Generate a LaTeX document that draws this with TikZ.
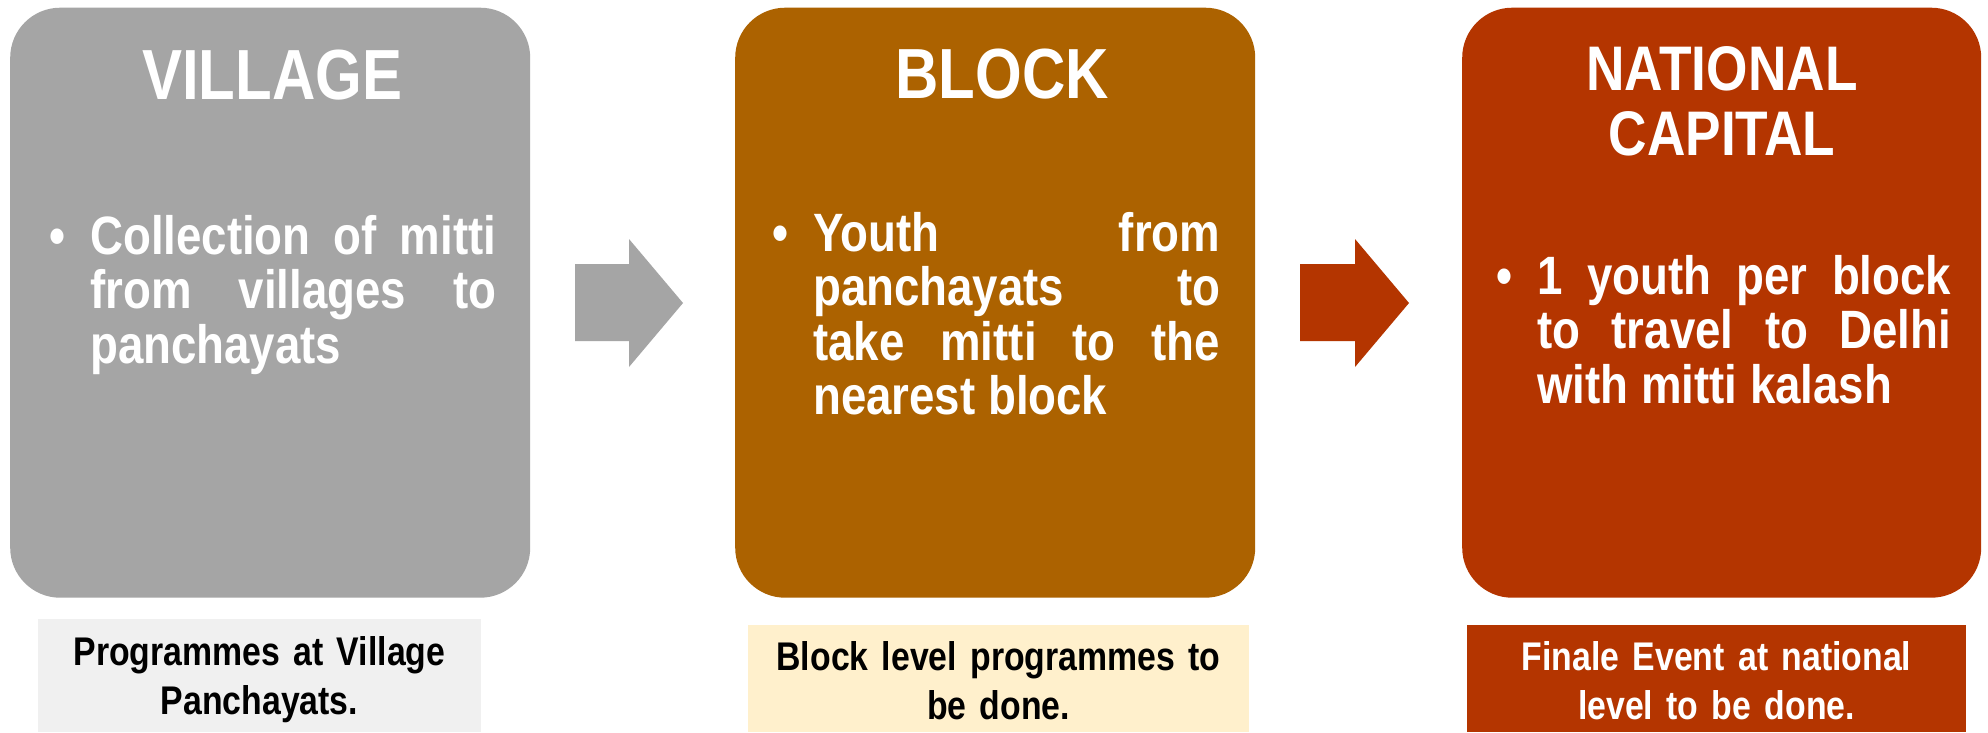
\documentclass[tikz,border=0pt]{standalone}
\usepackage{fontspec}
\setmainfont{Liberation Sans}[FakeStretch=0.845]
\definecolor{cgrey}{HTML}{A5A5A5}
\definecolor{cbrown}{HTML}{AC6200}
\definecolor{cred}{HTML}{B43500}
\definecolor{lgrey}{HTML}{F0F0F0}
\definecolor{lcream}{HTML}{FFF0CC}
\newcommand{\bulletpar}[2]{\begin{minipage}[t]{#1}\hbadness=10000\hangindent=41pt\hangafter=1\noindent\makebox[41pt][l]{•}#2\par\end{minipage}}
\begin{document}
\begin{tikzpicture}[x=1pt,y=-1pt,
  stage/.style={rounded corners=50pt, minimum width=520pt, minimum height=590pt, inner sep=0pt, anchor=north west},
  ttl/.style={text=white, inner sep=0pt, anchor=base, text width=500pt, align=center},
  body/.style={text=white, font=\bfseries\fontsize{54}{54.5}\selectfont, inner sep=0pt, anchor=base west},
  labbox/.style={inner sep=0pt, anchor=north west},
  labtxt/.style={font=\bfseries\fontsize{40}{49}\selectfont, inner sep=0pt, anchor=base, text width=500pt, align=center},
  blockarrow/.style={draw=none}
]
\useasboundingbox (0,0) rectangle (1988,732);
\fill[white] (0,0) rectangle (1988,732);

% stage boxes
\node[stage, fill=cgrey] (village) at (10,7.5) {};
\node[stage, fill=cbrown] (block) at (735,7.5) {};
\node[stage, fill=cred, minimum width=519pt] (national) at (1462,7.5) {};

% titles
\node[ttl, font=\bfseries\fontsize{71}{71}\selectfont] (tv) at (272,99) {VILLAGE};
\node[ttl, font=\bfseries\fontsize{71}{71}\selectfont] (tb) at (1002,98) {BLOCK};
\node[ttl, font=\bfseries\fontsize{63}{65}\selectfont] (tn) at (1722,90.6) {NATIONAL\\CAPITAL};

% bullet texts
\node[body] (bv) at (49,254) {\bulletpar{447pt}{Collection of mitti\linebreak from villages to\linebreak panchayats}};
\node[body] (bb) at (772,251) {\bulletpar{448pt}{Youth from\linebreak panchayats to\linebreak take mitti to the\linebreak nearest block}};
\node[body] (bn) at (1496,294) {\bulletpar{455pt}{1 youth per block\linebreak to travel to Delhi\linebreak with mitti kalash}};

% block arrows
\fill[cgrey, blockarrow] (575,264) -- (629,264) -- (629,239) -- (683,303) -- (629,367) -- (629,341) -- (575,341) -- cycle;
\fill[cred, blockarrow] (1300,264) -- (1355,264) -- (1355,239) -- (1409,303) -- (1355,367) -- (1355,341) -- (1300,341) -- cycle;

% bottom labels
\node[labbox, fill=lgrey, minimum width=443pt, minimum height=113pt] (lv) at (38,619) {};
\node[labbox, fill=lcream, minimum width=501pt, minimum height=107pt] (lb) at (748,625) {};
\node[labbox, fill=cred, minimum width=499pt, minimum height=107pt] (ln) at (1467,625) {};
\node[labtxt, text=black] (lvt) at (259.5,665) {Programmes at Village\\Panchayats.};
\node[labtxt, text=black] (lbt) at (998.5,670) {Block level programmes to\\be done.};
\node[labtxt, text=white] (lnt) at (1716.5,670) {Finale Event at national\\level to be done.};
\end{tikzpicture}
\end{document}
